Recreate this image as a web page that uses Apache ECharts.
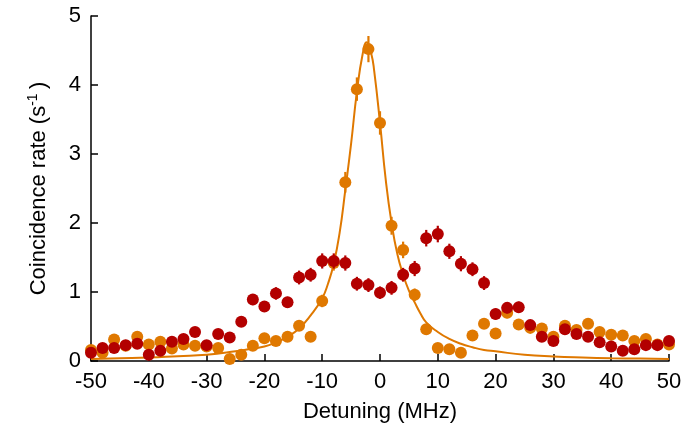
<!DOCTYPE html>
<html>
<head>
<meta charset="utf-8">
<script src="https://cdn.jsdelivr.net/npm/echarts@6/dist/echarts.min.js"></script>
<style>
html, body { margin: 0; padding: 0; background: #fff; }
#chart { width: 687px; height: 436px; }
</style>
</head>
<body>
<div id="chart"></div>
<script>
// detuning (MHz) of the measured points
var detuning = [-50, -48, -46, -44, -42, -40, -38, -36, -34, -32, -30, -28, -26, -24, -22, -20, -18, -16, -14, -12,
    -10, -8, -6, -4, -2, 0, 2, 4, 6, 8, 10, 12, 14, 16, 18, 20, 22, 24, 26, 28,
    30, 32, 34, 36, 38, 40, 42, 44, 46, 48, 50];

// orange points
var orangeRate = [0.16, 0.12, 0.31, 0.22, 0.35, 0.24, 0.28, 0.18, 0.24, 0.22, 0.21, 0.19, 0.03, 0.09, 0.22, 0.33, 0.29, 0.35, 0.51, 0.35,
    0.87, 1.42, 2.59, 3.94, 4.52, 3.45, 1.96, 1.61, 0.96, 0.46, 0.19, 0.17, 0.12, 0.37, 0.54, 0.40, 0.70, 0.53, 0.48, 0.47,
    0.35, 0.51, 0.45, 0.54, 0.42, 0.38, 0.37, 0.29, 0.32, 0.24, 0.24];
var orangeErr = [0.05, 0.05, 0.06, 0.05, 0.06, 0.05, 0.05, 0.05, 0.05, 0.05, 0.05, 0.05, 0.04, 0.04, 0.05, 0.06, 0.05, 0.06, 0.07, 0.06,
    0.09, 0.11, 0.15, 0.17, 0.19, 0.17, 0.13, 0.12, 0.09, 0.07, 0.05, 0.05, 0.04, 0.06, 0.07, 0.06, 0.08, 0.07, 0.07, 0.07,
    0.06, 0.07, 0.06, 0.07, 0.06, 0.06, 0.06, 0.05, 0.06, 0.05, 0.05];

// red points
var redRate = [0.12, 0.19, 0.19, 0.23, 0.25, 0.09, 0.15, 0.28, 0.32, 0.42, 0.23, 0.39, 0.34, 0.57, 0.89, 0.79, 0.98, 0.85, 1.21, 1.25,
    1.45, 1.45, 1.42, 1.12, 1.10, 0.99, 1.06, 1.25, 1.34, 1.78, 1.84, 1.59, 1.41, 1.33, 1.13, 0.68, 0.77, 0.78, 0.52, 0.35,
    0.29, 0.46, 0.39, 0.35, 0.27, 0.21, 0.15, 0.17, 0.23, 0.23, 0.29];
var redErr = [0.04, 0.05, 0.05, 0.05, 0.05, 0.04, 0.04, 0.05, 0.05, 0.06, 0.05, 0.06, 0.05, 0.07, 0.08, 0.08, 0.09, 0.08, 0.10, 0.10,
    0.11, 0.11, 0.11, 0.10, 0.10, 0.09, 0.10, 0.10, 0.11, 0.12, 0.12, 0.11, 0.11, 0.10, 0.10, 0.08, 0.08, 0.08, 0.07, 0.06,
    0.05, 0.06, 0.06, 0.06, 0.05, 0.05, 0.04, 0.04, 0.05, 0.05, 0.05];

// fitted curve
var fitX = [-50, -45, -40, -35, -30, -25, -22, -20, -18, -16, -14, -12, -10, -9, -8, -7, -6, -5, -4, -3,
    -2.3, -1.5, -1, 0, 1, 2, 3, 4, 5, 6, 7, 8, 10, 12, 14, 16, 18, 20, 25, 30, 35, 40, 45, 50];
var fitY = [0.03, 0.04, 0.05, 0.07, 0.09, 0.14, 0.18, 0.21, 0.27, 0.35, 0.47, 0.66, 0.91, 1.12, 1.41, 1.85, 2.48, 3.15, 3.9, 4.45,
    4.62, 4.45, 4.2, 3.45, 2.62, 2.0, 1.55, 1.25, 1.02, 0.85, 0.69, 0.56, 0.42, 0.32, 0.25, 0.2, 0.16, 0.14, 0.09, 0.065, 0.05, 0.04, 0.035, 0.03];

var ORANGE = '#df7800';
var RED = '#b30000';
var FONT = 'Liberation Sans';

function points(rate) {
    var d = [];
    for (var i = 0; i < detuning.length; i++) {
        d.push([detuning[i], rate[i]]);
    }
    return d;
}
function bars(rate, err) {
    var d = [];
    for (var i = 0; i < detuning.length; i++) {
        d.push([detuning[i], rate[i] - err[i], rate[i] + err[i]]);
    }
    return d;
}
function fitLine() {
    var d = [];
    for (var i = 0; i < fitX.length; i++) {
        d.push([fitX[i], fitY[i]]);
    }
    return d;
}
function errorRender(color) {
    return function (params, api) {
        var p1 = api.coord([api.value(0), api.value(1)]);
        var p2 = api.coord([api.value(0), api.value(2)]);
        return {
            type: 'line',
            shape: { x1: p1[0], y1: p1[1], x2: p2[0], y2: p2[1] },
            style: { stroke: color, lineWidth: 2.2 }
        };
    };
}

var myChart = echarts.init(document.getElementById('chart'));
var option = {
    animation: false,
    backgroundColor: '#fff',
    grid: { left: 91, right: 18, top: 16, bottom: 75 },
    xAxis: {
        type: 'value',
        min: -50,
        max: 50,
        interval: 10,
        name: 'Detuning (MHz)',
        nameLocation: 'middle',
        nameGap: 40,
        nameTextStyle: { fontFamily: FONT, fontSize: 22, color: '#000' },
        axisLine: { onZero: false, lineStyle: { color: '#000', width: 1.5 } },
        axisTick: { inside: true, length: 7, lineStyle: { color: '#000', width: 1.5 } },
        axisLabel: { fontFamily: FONT, fontSize: 22, color: '#000', margin: 10 },
        splitLine: { show: false }
    },
    yAxis: {
        type: 'value',
        min: 0,
        max: 5,
        interval: 1,
        name: 'Coincidence rate (s{sup|-1}\u2009)',
        nameLocation: 'middle',
        nameRotate: 90,
        nameGap: 39,
        nameTextStyle: {
            fontFamily: FONT, fontSize: 22, color: '#000', lineHeight: 26,
            rich: {
                sup: { fontFamily: FONT, fontSize: 14, color: '#000', verticalAlign: 'top', lineHeight: 26 }
            }
        },
        axisLine: { show: true, onZero: false, lineStyle: { color: '#000', width: 1.5 } },
        axisTick: { show: true, inside: true, length: 7, lineStyle: { color: '#000', width: 1.5 } },
        axisLabel: { fontFamily: FONT, fontSize: 22, color: '#000', margin: 10 },
        splitLine: { show: false }
    },
    series: [
        {
            name: 'fit',
            type: 'line',
            data: fitLine(),
            smooth: true,
            showSymbol: false,
            lineStyle: { color: ORANGE, width: 2 },
            z: 1
        },
        {
            name: 'orange err',
            type: 'custom',
            renderItem: errorRender(ORANGE),
            data: bars(orangeRate, orangeErr),
            encode: { x: 0, y: [1, 2] },
            z: 2
        },
        {
            name: 'orange',
            type: 'scatter',
            data: points(orangeRate),
            symbolSize: 12,
            itemStyle: { color: ORANGE, opacity: 1 },
            z: 3
        },
        {
            name: 'red err',
            type: 'custom',
            renderItem: errorRender(RED),
            data: bars(redRate, redErr),
            encode: { x: 0, y: [1, 2] },
            z: 4
        },
        {
            name: 'red',
            type: 'scatter',
            data: points(redRate),
            symbolSize: 12,
            itemStyle: { color: RED, opacity: 1 },
            z: 5
        }
    ]
};
myChart.setOption(option);
</script>
</body>
</html>
